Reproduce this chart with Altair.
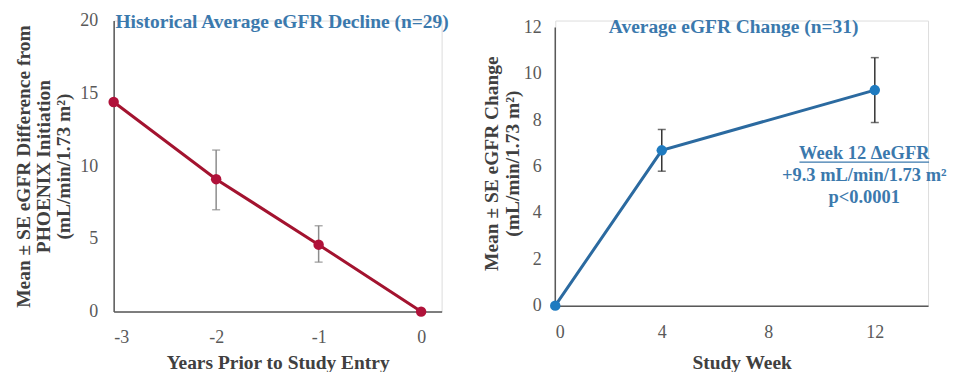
import altair as alt
import pandas as pd

# ---- data ----
left_years = [-3, -2, -1, 0]
left_mean = [14.4, 9.1, 4.6, 0.0]
left_err_x = [-2, -1]
left_err_low = [7.0, 3.4]
left_err_high = [11.1, 5.9]

right_weeks = [0, 4, 12]
right_mean = [0.0, 6.7, 9.3]
right_err_x = [4, 12]
right_err_low = [5.8, 7.9]
right_err_high = [7.6, 10.7]

left_title = "Historical Average eGFR Decline (n=29)"
right_title = "Average eGFR Change (n=31)"
left_ytitle = ["Mean ± SE eGFR Difference from", "PHOENIX Initiation", "(mL/min/1.73 m²)"]
right_ytitle = ["Mean ± SE eGFR Change", "(mL/min/1.73 m²)"]
annot_lines = ["Week 12 ΔeGFR", "+9.3 mL/min/1.73 m²", "p<0.0001"]

FONT = "Liberation Serif"
RED_LINE = "#A3132F"
RED_PT = "#B0123A"
BLUE_LINE = "#2B6AA0"
BLUE_PT = "#1F7BC0"
TITLE_BLUE = "#3B79AD"
AXIS_COL = "#595959"
TFS = 19.5  # title font size
LFS = 18    # tick label font size
AFS = 18.5  # annotation font size

dfl = pd.DataFrame({"x": left_years, "y": left_mean})
dfle = pd.DataFrame({"x": left_err_x, "lo": left_err_low, "hi": left_err_high})
dfr = pd.DataFrame({"x": right_weeks, "y": right_mean})
dfre = pd.DataFrame({"x": right_err_x, "lo": right_err_low, "hi": right_err_high})

LW, LH = 329, 292
RW, RH = 374, 286

axis_common = dict(
    grid=False, ticks=False, domainColor=AXIS_COL, domainWidth=1.5,
    labelFont=FONT, labelFontSize=LFS, labelColor=AXIS_COL,
    titleFont=FONT, titleFontSize=TFS, titleFontWeight="bold", titleColor="#404040",
)

# ---------------- left panel ----------------
xl = alt.X("x:Q", scale=alt.Scale(domain=[-3, 0.2], nice=False, zero=False),
           axis=alt.Axis(values=[-3, -2, -1, 0], labelExpr="'' + datum.value",
                         title="Years Prior to Study Entry", labelPadding=17,
                         titlePadding=7, **axis_common))
yl = alt.Y("y:Q", scale=alt.Scale(domain=[0, 20], nice=False),
           axis=alt.Axis(values=[0, 5, 10, 15, 20], title=left_ytitle,
                         labelPadding=16, titlePadding=6, titleLineHeight=20,
                         **axis_common))

cap = dict(orient="horizontal", size=8, thickness=1.5)
l_rule = alt.Chart(dfle).mark_rule(color="#8C8C8C", strokeWidth=1.5).encode(
    x="x:Q", y="lo:Q", y2="hi:Q")
l_cap_lo = alt.Chart(dfle).mark_tick(color="#8C8C8C", **cap).encode(x="x:Q", y="lo:Q")
l_cap_hi = alt.Chart(dfle).mark_tick(color="#8C8C8C", **cap).encode(x="x:Q", y="hi:Q")
l_line = alt.Chart(dfl).mark_line(color=RED_LINE, strokeWidth=3).encode(x=xl, y=yl)
l_pts = alt.Chart(dfl).mark_point(filled=True, size=110, opacity=1, color=RED_PT).encode(x="x:Q", y="y:Q")
l_title = alt.Chart(pd.DataFrame({"t": [left_title]})).mark_text(
    font=FONT, fontSize=TFS, fontWeight="bold", color=TITLE_BLUE, baseline="middle", align="center"
).encode(x=alt.value(169), y=alt.value(1), text="t:N")

left = alt.layer(l_line, l_rule, l_cap_lo, l_cap_hi, l_pts, l_title).properties(width=LW, height=LH)

# ---------------- right panel ----------------
xr = alt.X("x:Q", scale=alt.Scale(domain=[0, 14], nice=False),
           axis=alt.Axis(values=[0, 4, 8, 12], title="Study Week", labelPadding=18,
                         titlePadding=12, **axis_common))
yr = alt.Y("y:Q", scale=alt.Scale(domain=[0, 12.3], nice=False),
           axis=alt.Axis(values=[0, 2, 4, 6, 8, 10, 12], title=right_ytitle, domain=False,
                         labelPadding=14, titlePadding=1, titleLineHeight=21,
                         **axis_common))

r_axis = alt.Chart(pd.DataFrame({"x": [0], "y": [0], "y2": [12]})).mark_rule(
    color=AXIS_COL, strokeWidth=1.5).encode(x="x:Q", y="y:Q", y2="y2:Q")
r_rule = alt.Chart(dfre).mark_rule(color="#333333", strokeWidth=1.5).encode(
    x="x:Q", y="lo:Q", y2="hi:Q")
r_cap_lo = alt.Chart(dfre).mark_tick(color="#333333", **cap).encode(x="x:Q", y="lo:Q")
r_cap_hi = alt.Chart(dfre).mark_tick(color="#333333", **cap).encode(x="x:Q", y="hi:Q")
r_line = alt.Chart(dfr).mark_line(color=BLUE_LINE, strokeWidth=3).encode(x=xr, y=yr)
r_pts = alt.Chart(dfr).mark_point(filled=True, size=110, opacity=1, color=BLUE_PT).encode(x="x:Q", y="y:Q")
r_title = alt.Chart(pd.DataFrame({"t": [right_title]})).mark_text(
    font=FONT, fontSize=TFS, fontWeight="bold", color=TITLE_BLUE, baseline="middle", align="center"
).encode(x=alt.value(179), y=alt.value(6), text="t:N")

annot_layers = []
annot_y = [133, 155, 177]
for txt, yy in zip(annot_lines, annot_y):
    annot_layers.append(
        alt.Chart(pd.DataFrame({"t": [txt]})).mark_text(
            font=FONT, fontSize=AFS, fontWeight="bold", color=TITLE_BLUE,
            baseline="middle", align="center"
        ).encode(x=alt.value(310), y=alt.value(yy), text="t:N")
    )
r_underline = alt.Chart(pd.DataFrame({"a": [0]})).mark_rule(color=TITLE_BLUE, strokeWidth=1.2).encode(
    x=alt.value(245), x2=alt.value(375), y=alt.value(142))

right = alt.layer(r_line, r_axis, r_rule, r_cap_lo, r_cap_hi, r_pts, r_title,
                  *annot_layers, r_underline).properties(width=RW, height=RH)

chart = alt.hconcat(left, right, spacing=30).configure_view(stroke=None).configure(
    padding={"left": 5, "top": 2, "right": 0, "bottom": 0})

chart.save("out.html", embed_options={"renderer": "svg", "actions": False})
